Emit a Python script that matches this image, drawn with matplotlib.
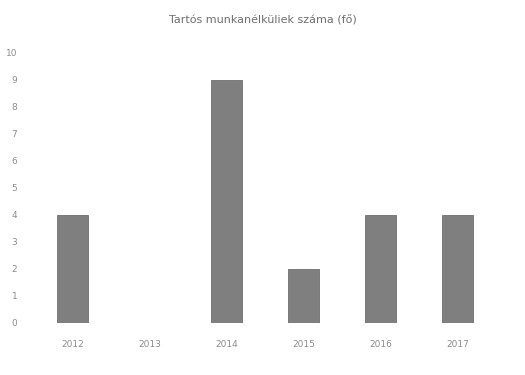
import matplotlib
matplotlib.use("Agg")
import matplotlib.pyplot as plt

# Adatok
evek = ["2012", "2013", "2014", "2015", "2016", "2017"]
letszam = [4, 0, 9, 2, 4, 4]
yticks = list(range(0, 11))

plt.rcParams['font.family'] = ['Liberation Sans Narrow', 'DejaVu Sans']

fig = plt.figure(figsize=(5.25, 3.75), dpi=100)
ax = fig.add_axes([0.065, 0.139, 0.88, 0.72])

x = range(len(evek))
ax.bar(x, letszam, width=0.4, color="#7f7f7f", edgecolor="#6e6e6e", linewidth=0.6)

ax.set_xlim(-0.5, len(evek) - 0.5)
ax.set_ylim(0, 10)
ax.set_yticks(yticks)
ax.set_xticks(list(x))
ax.set_xticklabels(evek)
ax.tick_params(axis='both', length=0, labelsize=6.5, colors="#8c8c8c")
ax.tick_params(axis='x', pad=12)
ax.tick_params(axis='y', pad=12)
for s in ax.spines.values():
    s.set_visible(False)

fig.text(0.5, 0.945, "Tartós munkanélküliek száma (fő)", ha="center", va="center",
         fontsize=8, color="#6e6e6e")

fig.savefig("out.png", dpi=100, facecolor="white")
